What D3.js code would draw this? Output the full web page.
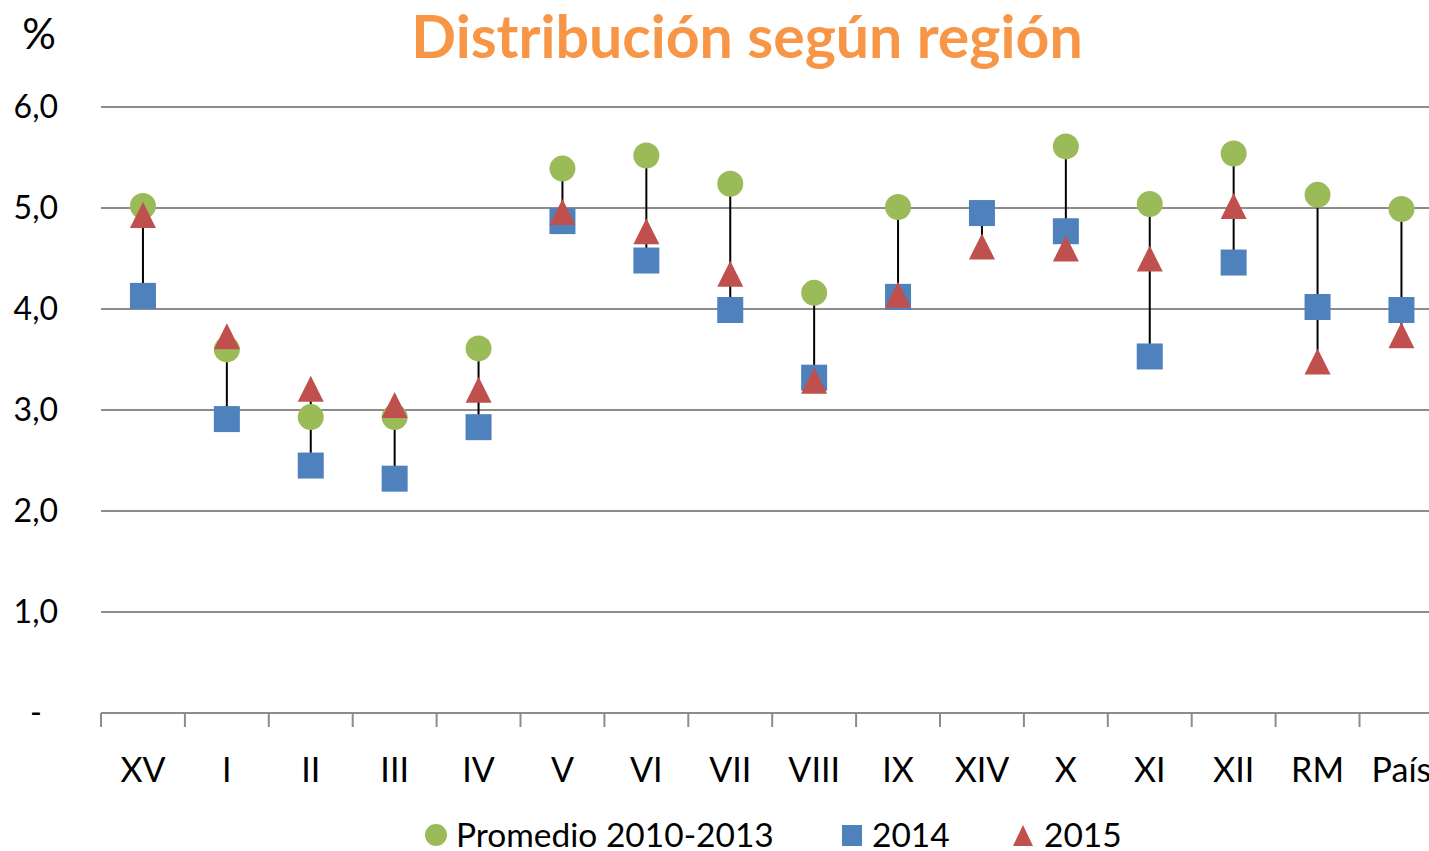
<!DOCTYPE html>
<html>
<head>
<meta charset="utf-8">
<script src="https://cdn.jsdelivr.net/npm/d3@7"></script>
<style>
  body { margin: 0; background: #fff; overflow: hidden; }
  text { font-family: Lato, "Open Sans", sans-serif; }
</style>
</head>
<body>
<div id="chart"></div>
<script>
// data
var regions = ["XV", "I", "II", "III", "IV", "V", "VI", "VII", "VIII", "IX", "XIV", "X", "XI", "XII", "RM", "País"];
var promedio = [5.02, 3.60, 2.93, 2.93, 3.61, 5.39, 5.52, 5.24, 4.16, 5.01, null, 5.61, 5.04, 5.54, 5.13, 4.99];
var y2014 = [4.13, 2.91, 2.45, 2.32, 2.83, 4.87, 4.48, 3.99, 3.32, 4.12, 4.95, 4.77, 3.53, 4.46, 4.02, 3.99];
var y2015 = [4.93, 3.73, 3.21, 3.05, 3.20, 4.96, 4.77, 4.35, 3.29, 4.14, 4.62, 4.60, 4.50, 5.02, 3.48, 3.74];
var yTicks = [0, 1, 2, 3, 4, 5, 6];

//svg size
var svgWidth = 1429;
var svgHeight = 851;

var svg = d3.select("#chart")
    .append("svg")
    .attr("width", svgWidth)
    .attr("height", svgHeight);

//plot area
var plotLeft = 101, bandW = 83.9, plotTop = 107, plotBottom = 713;

var x = d3.scaleBand()
    .domain(regions)
    .range([plotLeft, plotLeft + bandW * regions.length])
    .padding(0);
var y = d3.scaleLinear()
    .domain([0, 6])
    .range([plotBottom, plotTop]);

//gridlines
svg.append("g").selectAll("line")
    .data(yTicks.filter(d => d > 0))
    .enter().append("line")
    .attr("x1", plotLeft).attr("x2", svgWidth)
    .attr("y1", d => y(d)).attr("y2", d => y(d))
    .attr("stroke", "#8c8c8c")
    .attr("stroke-width", 2);

//y labels
svg.append("g").selectAll("text")
    .data(yTicks)
    .enter().append("text")
    .attr("x", d => d === 0 ? 36 : 58)
    .attr("y", d => y(d))
    .attr("dy", "0.35em")
    .attr("text-anchor", d => d === 0 ? "middle" : "end")
    .attr("font-size", 32)
    .attr("fill", "#000")
    .text(d => d === 0 ? "-" : d3.format(".1f")(d).replace(".", ","));

//x axis
var xAxis = d3.axisBottom(x).tickSize(0).tickPadding(45);
var gx = svg.append("g")
    .attr("transform", `translate(0, ${plotBottom})`)
    .call(xAxis);
gx.select(".domain").remove();
gx.selectAll("text")
    .attr("font-size", 34)
    .attr("font-family", "Lato, sans-serif")
    .attr("fill", "#000");
svg.append("line")
    .attr("x1", plotLeft).attr("x2", svgWidth)
    .attr("y1", plotBottom).attr("y2", plotBottom)
    .attr("stroke", "#8c8c8c").attr("stroke-width", 2);
svg.append("g").selectAll("line")
    .data(d3.range(regions.length + 1))
    .enter().append("line")
    .attr("x1", d => plotLeft + d * x.bandwidth())
    .attr("x2", d => plotLeft + d * x.bandwidth())
    .attr("y1", plotBottom).attr("y2", plotBottom + 14)
    .attr("stroke", "#8c8c8c").attr("stroke-width", 2);

//high-low lines
var rows = regions.map(function(r, i) {
    var vals = [promedio[i], y2014[i], y2015[i]].filter(v => v !== null);
    return {region: r, hi: d3.max(vals), lo: d3.min(vals)};
});
svg.append("g").selectAll("line")
    .data(rows)
    .enter().append("line")
    .attr("x1", d => x(d.region) + x.bandwidth() / 2)
    .attr("x2", d => x(d.region) + x.bandwidth() / 2)
    .attr("y1", d => y(d.hi))
    .attr("y2", d => y(d.lo))
    .attr("stroke", "#000")
    .attr("stroke-width", 2);

var cx = function(i) { return x(regions[i]) + x.bandwidth() / 2; };

//circles
svg.append("g").selectAll("circle")
    .data(promedio.map((v, i) => ({v: v, i: i})).filter(d => d.v !== null))
    .enter().append("circle")
    .attr("cx", d => cx(d.i))
    .attr("cy", d => y(d.v))
    .attr("r", 13)
    .attr("fill", "#9bbb59");

//squares
svg.append("g").selectAll("rect")
    .data(y2014.map((v, i) => ({v: v, i: i})))
    .enter().append("rect")
    .attr("x", d => cx(d.i) - 13)
    .attr("y", d => y(d.v) - 13)
    .attr("width", 26).attr("height", 26)
    .attr("fill", "#4f81bd");

//triangles (excel style, as tall as wide)
var triPath = "M0,-13L13,13L-13,13Z";
svg.append("g").selectAll("path")
    .data(y2015.map((v, i) => ({v: v, i: i})))
    .enter().append("path")
    .attr("d", triPath)
    .attr("transform", d => `translate(${cx(d.i)}, ${y(d.v)})`)
    .attr("fill", "#c0504d");

//titles
svg.append("text")
    .attr("x", 747).attr("y", 58)
    .attr("text-anchor", "middle")
    .attr("font-size", 59)
    .attr("font-weight", "bold")
    .attr("fill", "#f79646")
    .text("Distribución según región");
svg.append("text")
    .attr("x", 39).attr("y", 49)
    .attr("text-anchor", "middle")
    .attr("font-size", 42)
    .attr("fill", "#000")
    .text("%");

//legend
var legend = svg.append("g").attr("font-size", 33.5);
legend.append("circle").attr("cx", 436).attr("cy", 835).attr("r", 11).attr("fill", "#9bbb59");
legend.append("text").attr("x", 456).attr("y", 847).text("Promedio 2010-2013");
legend.append("rect").attr("x", 842).attr("y", 825).attr("width", 20).attr("height", 21).attr("fill", "#4f81bd");
legend.append("text").attr("x", 872).attr("y", 847).text("2014");
legend.append("path")
    .attr("d", "M0,-11L10,10L-10,10Z")
    .attr("transform", "translate(1023, 836)")
    .attr("fill", "#c0504d");
legend.append("text").attr("x", 1044).attr("y", 847).text("2015");
</script>
</body>
</html>
